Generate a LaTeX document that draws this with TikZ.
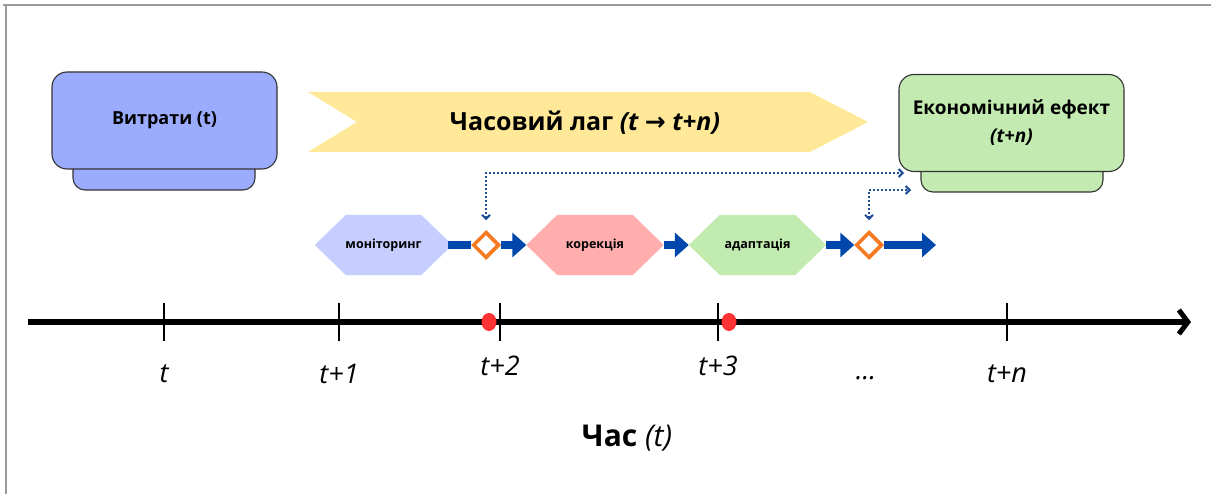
\documentclass[tikz,border=0pt]{standalone}
\usepackage{fontspec}
\setmainfont{Open Sans}
\newfontfamily\arrowfont{DejaVu Sans}
\usetikzlibrary{arrows.meta,shapes.geometric,calc}
\definecolor{costblue}{HTML}{9BACFE}
\definecolor{effgreen}{HTML}{C3EBB1}
\definecolor{lagyellow}{HTML}{FFE999}
\definecolor{monblue}{HTML}{C5CEFF}
\definecolor{korred}{HTML}{FFADAD}
\definecolor{adgreen}{HTML}{C2EBB0}
\definecolor{flowblue}{HTML}{0047AB}
\definecolor{dotblue}{HTML}{1F4E96}
\definecolor{diaorange}{HTML}{F57A21}
\definecolor{dotred}{HTML}{FF3333}
\definecolor{framegray}{HTML}{9A9A9A}
\tikzset{
  cardmain/.style={draw=black!80, line width=1.1pt, rounded corners=15pt, minimum width=225pt, minimum height=97pt, inner sep=0pt, font=\fontsize{18}{21}\selectfont\bfseries, align=center},
  cardbase/.style={draw=black!80, line width=1.1pt, rounded corners=12pt, minimum width=182pt, minimum height=40pt, inner sep=0pt},
  hexnode/.style={minimum width=137pt, minimum height=60pt, inner sep=0pt, font=\fontsize{12.5}{15}\selectfont\bfseries},
  diamondnode/.style={shape=diamond, aspect=1, draw=diaorange, line width=3.5pt, fill=white, minimum width=26pt, minimum height=26pt, inner sep=0pt},
  flowline/.style={draw=flowblue, line width=8pt},
  flowarrow/.style={flowline, -{Triangle[length=14pt,width=24pt]}},
  dotarrow/.style={draw=dotblue, line width=2.2pt, dash pattern=on 2pt off 2pt, {Straight Barb[length=4pt,width=8pt,line width=2pt]}-{Straight Barb[length=4pt,width=8pt,line width=2pt]}},
  axisline/.style={line width=6pt, -{Straight Barb[length=9pt,width=24pt,line width=5pt]}},
  ticks/.style={line width=2.5pt},
  tlabel/.style={font=\fontsize{27}{30}\selectfont\itshape, inner sep=0pt},
}
\begin{document}
\begin{tikzpicture}[x=1pt,y=-1pt]
\useasboundingbox (0,0) rectangle (1211,494);
% frame
\draw[framegray, line width=1.5pt] (3,5) -- (1211,5);
\draw[framegray, line width=1.5pt] (6,5) -- (6,494);

% cost card
\node[cardbase, fill=costblue] (costbase) at (164,170) {};
\node[cardmain, fill=costblue] (cost) at (164.5,120.5) {Витрати (t)};

% effect card
\node[cardbase, fill=effgreen] (effbase) at (1012,172) {};
\node[cardmain, fill=effgreen, font=\fontsize{19}{22}\selectfont\bfseries] (eff) at (1011.5,123) {Економічний ефект\\[6pt]\itshape (t+n)};

% lag chevron
\fill[lagyellow] (308,92) -- (810,92) -- (868,122) -- (810,152) -- (308,152) -- (357,122) -- cycle;
\node[font=\fontsize{25}{30}\selectfont\bfseries, inner sep=0pt] (lag) at (585,123) {Часовий лаг \textit{(t {\arrowfont\bfseries →} t+n)}};

% process hexagons
\node[hexnode] (mon) at (383.5,245) {};
\node[hexnode] (kor) at (595,245) {};
\node[hexnode] (ad) at (757.5,245) {};
\foreach \n/\c in {mon/monblue, kor/korred, ad/adgreen}{
  \fill[\c] (\n.west) -- ($(\n.north west)+(31,0)$) -- ($(\n.north east)+(-31,0)$) -- (\n.east) -- ($(\n.south east)+(-31,0)$) -- ($(\n.south west)+(31,0)$) -- cycle;
}
\node[hexnode] at (mon) {моніторинг};
\node[hexnode] at (kor) {корекція};
\node[hexnode] at (ad) {адаптація};

% diamonds and flow
\node[diamondnode] (d1) at (486,245) {};
\node[diamondnode] (d2) at (869,245) {};
\coordinate (fin) at (936,245);
\draw[flowline] ($(mon.east)+(-4,0)$) -- (d1.west);
\draw[flowarrow] (d1.east) -- (kor.west);
\draw[flowarrow] (kor.east) -- (ad.west);
\draw[flowarrow] (ad.east) -- (d2.west);
\draw[flowarrow] (d2.east) -- (fin);
% redraw diamonds on top
\node[diamondnode] at (d1) {};
\node[diamondnode] at (d2) {};

% dotted feedback links
\coordinate (e1) at (904,173);
\coordinate (e2) at (911,190);
\draw[dotarrow, shorten <=10pt] (d1.north) |- (e1);
\draw[dotarrow, shorten <=10pt] (d2.north) |- (e2);

% time axis
\coordinate (ax0) at (28,322);
\coordinate (ax1) at (1191,322);
\draw[axisline] (ax0) -- (ax1);
\foreach \x in {164,339,500,718,1007}{
  \draw[ticks] (\x,303) -- (\x,341);
}
\fill[dotred] (489,322) ellipse (7.5 and 9);
\fill[dotred] (729,322) ellipse (7.5 and 9);

\node[tlabel] (l0) at (164,374) {t};
\node[tlabel] (l1) at (339,374) {t+1};
\node[tlabel] (l2) at (500,366) {t+2};
\node[tlabel] (l3) at (718,366) {t+3};
\node[tlabel] (ldots) at (866,378) {...};
\node[tlabel] (ln) at (1007,374) {t+n};

\node[inner sep=0pt] (axislabel) at (627,438) {\fontsize{30}{34}\selectfont\bfseries Час \mdseries\itshape(t)};
\end{tikzpicture}
\end{document}
